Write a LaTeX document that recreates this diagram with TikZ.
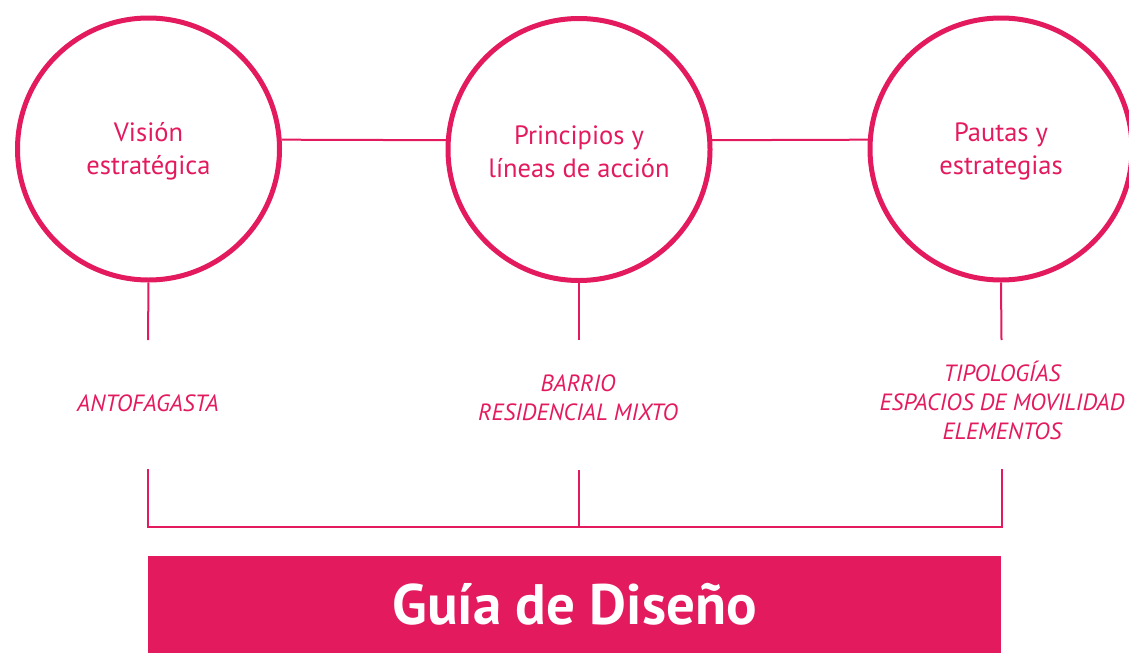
\documentclass[tikz,border=0pt]{standalone}
\usepackage{fontspec}
\setmainfont{PT Sans}
\definecolor{guia}{HTML}{E31A5E}
\begin{document}
\begin{tikzpicture}[x=1pt,y=-1pt,
  ring/.style={circle,draw=guia,line width=5pt,minimum size=262pt,inner sep=0pt},
  ringtext/.style={align=center,text=guia,inner sep=0pt,font=\fontsize{26.5}{33}\selectfont},
  link/.style={draw=guia,line width=2pt},
  label/.style={text=guia,align=center,inner sep=0pt,font=\fontsize{23.5}{29}\selectfont\itshape},
  banner/.style={fill=guia,text=white,minimum width=853pt,minimum height=97pt,inner sep=0pt,
    font=\fontsize{57}{60}\selectfont\bfseries}]
\useasboundingbox (0,0) rectangle (1129,653);
\clip (0,0) rectangle (1129,653);
% circles
\node[ring] (c1) at (148.5,149) {};
\node[ring] (c2) at (579,149.5) {};
\node[ring] (c3) at (1001,149) {};
\node[ringtext] (v1) at (148.5,151) {Visión\\estratégica};
\node[ringtext] (v2) at (579,151.5) {Principios y\\líneas de acción};
\node[ringtext] (v3) at (1001,151) {Pautas y\\estrategias};
% links between circles
\draw[link] (c1.4) -- (c2.176);
\draw[link] (c2.4) -- (c3.176);
% coordinates
\coordinate (a1) at (148,340);
\coordinate (a2) at (579,340);
\coordinate (a3) at (1001.5,340);
\coordinate (b1) at (148,470);
\coordinate (b2) at (579,470);
\coordinate (b3) at (1001.5,470);
\coordinate (j1) at (148,527);
\coordinate (j2) at (579,527);
\coordinate (j3) at (1001.5,527);
\draw[link] (c1.south) -- (a1);
\draw[link] (c2.south) -- (a2);
\draw[link] (c3.south) -- (a3);
% labels
\node[label] (t1) at (148,403) {ANTOFAGASTA};
\node[label] (t2) at (578,398) {BARRIO\\RESIDENCIAL MIXTO};
\node[label] (t3) at (1002,400) {TIPOLOGÍAS\\ESPACIOS DE MOVILIDAD\\ELEMENTOS};
% bracket
\draw[link,line cap=rect] (b1) -- (j1) -- (j3) -- (b3);
\draw[link] (b2) -- (j2);
% banner
\node[banner] (g) at (574.5,604.5) {Guía de Diseño};
\end{tikzpicture}
\end{document}
